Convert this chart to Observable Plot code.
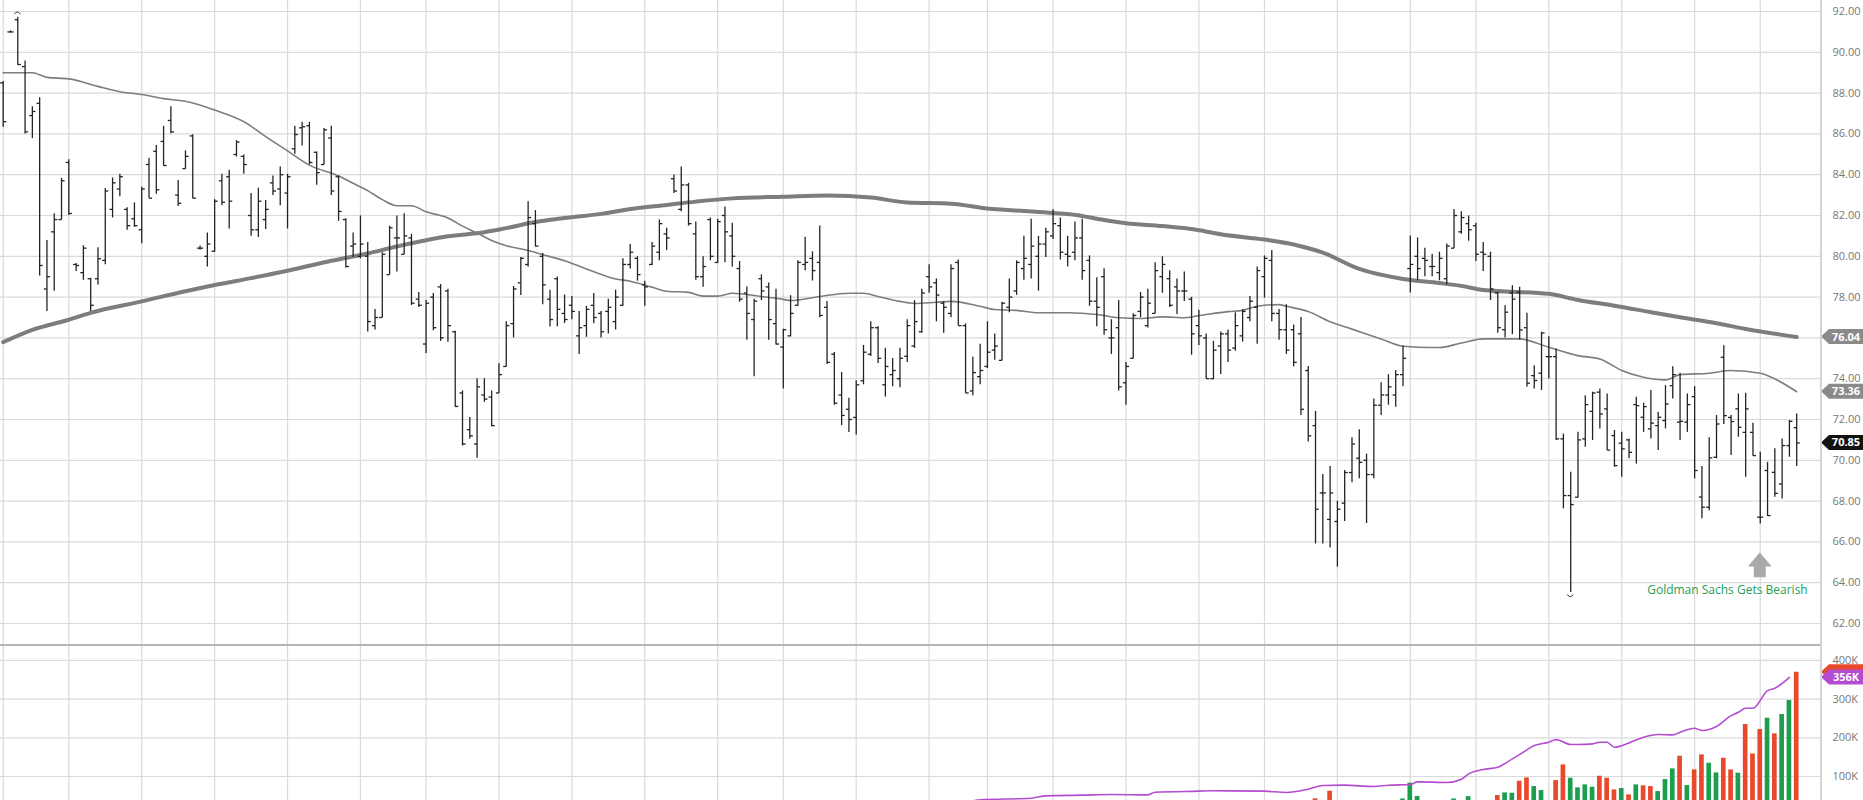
<!DOCTYPE html>
<html><head><meta charset="utf-8">
<script src="https://cdn.jsdelivr.net/npm/d3@7"></script>
<script src="https://cdn.jsdelivr.net/npm/@observablehq/plot@0.6"></script>
<style>
html,body{margin:0;padding:0;background:#fff;overflow:hidden}
#wrap{width:1863px;height:800px;position:relative}
#sep{height:2px;background:#b5b5b5;width:1821px}
#vline{position:absolute;left:1820px;top:0;width:2px;height:800px;background:#d4d4d4}
svg{display:block}
</style></head><body>
<div id="wrap"><div id="price"></div><div id="sep"></div><div id="vol"></div><div id="vline"></div></div>
<script>
// ---- daily OHLC (bar index 0..246) ----
const opens = [88.5,91.0,91.6,89.3,86.9,87.5,78.4,81.2,81.8,84.6,
79.6,79.2,78.9,78.9,79.8,82.3,83.3,82.3,81.84,81.3,
84.5,85.15,85.63,86.66,83.0,84.3,85.9,80.4,80.0,80.25,
83.7,83.9,84.99,84.9,82.0,81.3,81.8,83.6,83.3,83.1,
85.27,86.3,86.4,85.1,84.5,85.8,83.9,81.8,80.5,80.0,
80.0,76.6,77.0,79.1,80.9,80.1,80.9,77.9,75.7,78.0,
78.5,78.3,76.3,73.3,71.5,70.8,73.2,73.1,73.3,74.6,
76.7,78.7,79.6,81.6,80.0,77.9,78.9,77.2,77.6,76.1,
76.6,77.6,77.2,77.3,76.8,77.6,79.6,79.9,78.6,79.6,
80.2,81.1,83.8,82.3,83.5,81.1,79.0,81.8,79.7,82.0,
81.0,79.4,78.2,76.9,78.9,78.5,76.7,75.55,76.1,77.6,
79.6,79.9,79.7,77.5,75.2,73.2,72.5,72.1,73.9,75.2,
76.5,73.7,74.2,74.0,75.1,75.6,76.3,79.0,78.7,77.7,
77.2,79.7,76.6,73.4,74.1,74.6,75.4,74.9,77.5,78.3,
79.4,79.6,80.0,80.6,81.0,81.5,80.1,80.2,80.9,79.8,
77.8,79.0,76.0,76.5,73.8,75.0,77.3,76.6,77.2,79.0,
78.9,78.5,78.3,77.9,76.6,76.0,74.0,75.6,76.2,75.5,
76.1,77.0,77.5,79.0,79.8,77.2,76.4,76.4,76.2,74.4,
71.7,68.4,67.1,67.0,67.9,69.4,70.1,70.0,69.3,72.7,
73.2,73.2,74.2,79.4,80.0,79.9,79.5,79.2,78.9,80.4,
81.2,81.6,81.5,80.2,80.0,78.2,76.4,78.2,78.24,76.5,
74.15,74.27,75.08,75.08,71.05,68.27,68.19,71.05,72.4,73.34,
72.52,71.21,70.84,71.0,72.73,72.11,71.54,71.7,71.95,73.66,
71.87,71.87,73.12,68.2,67.7,70.15,75.05,72.1,72.52,71.37,
71.37,67.21,69.5,69.41,68.84,70.72,71.6];
const highs = [88.57,91.05,91.72,89.57,87.33,87.77,80.78,82.08,83.82,84.73,
79.65,80.52,78.93,80.42,83.32,83.84,84.02,82.38,82.62,83.38,
84.81,85.43,86.37,87.33,83.72,85.17,85.96,80.5,81.14,82.78,
84.02,84.22,85.67,84.97,83.08,83.34,82.74,83.94,84.38,84.02,
86.37,86.57,86.57,85.11,86.27,86.37,83.94,81.84,81.14,81.98,
80.68,77.39,80.18,81.48,81.98,82.08,81.08,78.22,77.83,78.18,
78.62,78.38,76.33,73.4,72.1,74.0,74.0,73.4,74.73,76.79,
78.52,79.94,82.68,82.24,80.14,78.34,78.98,78.1,78.03,77.29,
77.55,78.18,77.29,77.89,78.34,79.88,80.58,79.98,78.78,80.68,
81.78,81.38,83.98,84.38,83.58,81.68,79.98,81.88,81.82,82.42,
81.62,79.74,78.49,77.89,79.09,78.69,78.39,76.43,78.07,79.78,
80.94,80.22,81.48,77.79,75.29,74.3,73.04,73.9,75.63,76.79,
76.55,75.49,74.99,75.49,76.89,77.83,78.39,79.58,78.89,77.79,
79.58,79.82,76.69,75.05,75.69,76.79,76.19,77.75,78.89,79.78,
80.98,81.82,80.98,81.38,82.28,81.88,80.98,81.68,81.82,80.02,
78.95,79.39,76.89,77.83,74.79,77.19,78.23,78.39,79.68,79.98,
79.29,78.89,79.23,77.99,77.35,76.19,75.83,76.29,76.39,77.23,
77.39,78.03,79.48,80.02,80.28,77.39,77.63,76.63,77.0,74.6,
72.4,69.3,69.7,67.99,69.5,71.1,71.5,70.3,73.0,73.8,
74.2,74.4,75.6,81.0,80.9,80.4,80.1,80.2,80.6,82.3,
82.18,81.98,81.62,80.68,80.2,78.24,77.58,78.56,78.48,77.21,
74.64,76.28,76.06,75.46,71.29,69.41,71.37,73.17,73.34,73.5,
73.25,71.46,71.37,71.05,73.09,72.8,73.42,72.35,73.66,74.59,
74.27,73.25,73.61,69.69,71.1,72.19,75.62,72.19,73.25,73.29,
71.82,70.39,69.9,70.56,71.05,71.95,72.27];
const lows = [86.33,90.95,89.37,86.0,85.77,79.03,77.29,78.29,81.78,82.0,
79.25,78.82,77.29,78.59,79.58,81.88,82.92,81.28,81.42,80.62,
82.84,83.04,84.42,86.01,82.44,84.27,82.82,80.3,79.48,80.2,
82.48,81.34,84.87,84.02,80.98,80.92,81.32,82.98,82.48,81.34,
85.0,85.41,84.48,83.48,84.48,82.98,81.72,79.43,79.94,79.88,
76.29,76.39,76.99,79.09,79.23,80.08,77.59,77.49,75.23,76.35,
75.83,75.79,72.6,70.7,71.04,70.1,72.84,71.64,73.28,74.56,
76.0,78.08,79.48,80.46,77.63,76.53,76.55,76.7,76.89,75.19,
76.03,76.69,75.99,76.19,76.39,77.55,79.38,78.78,77.55,79.55,
79.78,80.28,83.08,82.18,81.48,78.83,78.48,79.78,79.65,79.68,
79.48,77.75,75.89,74.1,77.83,75.89,75.65,73.5,76.05,77.55,
79.29,78.79,76.99,74.7,72.7,71.7,71.36,71.24,73.7,75.09,
74.75,73.1,73.6,73.56,74.79,75.49,76.23,78.19,76.79,76.23,
76.99,76.59,73.28,73.16,73.7,74.5,74.9,74.88,77.23,78.09,
78.83,78.89,78.29,79.94,80.82,79.82,79.48,79.78,78.83,77.55,
76.55,76.13,75.19,73.4,72.7,74.98,76.99,76.49,77.18,78.19,
77.49,77.15,77.79,75.15,75.63,73.98,73.95,74.2,74.79,75.35,
75.79,76.79,75.69,77.95,76.79,75.89,75.19,74.59,72.2,70.9,
65.9,65.9,65.7,64.76,67.0,68.9,69.1,66.9,69.1,72.2,
72.7,72.6,73.6,78.2,78.8,79.0,79.0,78.8,78.6,80.38,
81.08,80.74,79.74,79.25,77.83,76.23,76.0,76.16,75.9,73.58,
73.5,73.42,73.99,70.97,67.62,63.52,68.15,70.64,70.97,71.54,
70.48,69.66,69.17,70.07,69.82,71.37,71.05,70.48,71.54,73.01,
70.97,71.37,69.09,67.13,67.53,70.07,71.75,70.23,71.13,69.17,
70.2,66.88,67.25,68.19,68.1,70.15,69.69];
const closes = [86.6,91.0,89.4,86.1,87.1,79.55,79.0,81.8,83.7,82.1,
79.55,80.4,77.6,79.88,83.2,83.6,83.9,81.5,81.5,83.3,
82.85,83.26,84.45,86.1,82.6,84.9,82.85,80.4,80.6,82.7,
82.65,82.7,85.6,84.5,81.3,82.7,82.3,83.2,84.0,83.9,
85.97,86.35,84.6,84.1,86.2,83.2,82.2,79.5,80.6,80.6,
76.8,77.0,80.1,81.4,80.9,81.0,77.7,77.6,77.7,76.5,
76.0,76.6,72.64,70.8,71.2,73.6,73.0,71.7,74.2,76.6,
78.4,79.9,81.9,80.5,78.6,76.9,77.4,76.9,77.3,76.5,
77.4,77.0,76.3,77.5,78.0,79.6,80.2,79.1,78.5,80.5,
81.6,80.9,83.2,83.5,81.6,79.0,79.5,80.0,81.7,81.2,
80.0,77.9,77.2,77.8,78.3,76.9,75.7,76.4,77.2,79.7,
79.7,79.3,77.1,74.8,72.8,72.2,72.0,73.7,75.3,76.5,
75.0,74.6,74.4,75.0,76.6,76.8,78.2,78.5,78.1,77.5,
79.4,76.6,73.3,74.3,74.4,75.3,75.6,77.7,78.0,79.7,
79.9,80.5,80.6,81.2,81.6,80.2,80.0,80.9,79.3,77.8,
77.5,76.4,76.0,73.6,74.6,77.1,78.0,77.7,79.3,79.6,
77.6,78.3,78.3,76.2,76.1,74.0,75.4,76.2,75.4,76.6,
77.3,77.8,79.3,79.9,77.2,76.4,75.4,74.8,72.5,71.2,
67.6,68.4,68.4,67.6,69.4,70.8,69.9,69.3,72.7,73.2,
73.6,74.2,75.0,79.6,79.4,79.8,79.5,79.9,80.5,82.0,
81.9,81.3,80.1,80.1,78.4,76.5,77.26,77.9,76.39,73.78,
73.91,76.24,75.08,71.05,68.27,67.83,71.0,72.73,73.3,72.27,
70.5,69.74,70.56,70.39,72.68,72.63,71.82,72.11,72.76,74.2,
71.91,72.73,69.5,67.7,70.12,71.78,72.19,71.9,71.62,72.52,
70.23,67.21,67.29,68.38,70.72,71.91,70.85];

// ---- moving averages, read at sample bars ----
const ma200Idx = [0,4,9,12,19,25,29,34,39,45,50,54,61,66,69,73,77,82,86,91,95,100,107,113,119,124,130,135,140,144,148,150,154,159,164,167,173,177,181,186,192,197,200,203,212,216,221,226,230,235,239,246];
const ma200Val = [75.79,76.39,76.89,77.23,77.79,78.29,78.59,78.93,79.29,79.78,80.14,80.48,80.98,81.18,81.38,81.68,81.88,82.08,82.32,82.52,82.68,82.84,82.92,82.98,82.88,82.64,82.58,82.34,82.22,82.12,81.98,81.84,81.62,81.48,81.28,81.08,80.82,80.58,80.18,79.38,78.89,78.69,78.55,78.35,78.16,77.86,77.58,77.26,77.01,76.72,76.44,76.04];
const ma50Idx = [0,4,6,9,13,16,19,22,25,29,33,36,39,42,46,48,50,52,54,56,58,61,63,65,67,69,72,74,77,80,84,86,89,91,94,96,98,100,104,107,108,112,116,118,120,123,125,128,130,134,136,139,142,146,150,153,156,159,162,165,168,170,172,175,176,179,182,185,189,192,196,197,200,203,208,212,216,219,222,225,228,230,234,237,241,243,246];
const ma50Val = [89.0,89.0,88.77,88.7,88.33,88.07,87.93,87.73,87.6,87.17,86.6,85.87,85.17,84.47,83.94,83.58,83.22,82.78,82.48,82.48,82.18,81.88,81.48,81.14,80.78,80.52,80.28,80.08,79.78,79.38,78.89,78.78,78.49,78.29,78.23,78.05,78.05,78.19,78.03,77.89,77.83,78.03,78.19,78.19,78.03,77.79,77.69,77.75,77.79,77.55,77.39,77.35,77.23,77.23,77.15,76.99,76.95,77.03,76.99,77.15,77.29,77.35,77.55,77.63,77.55,77.29,76.79,76.43,75.95,75.59,75.53,75.53,75.75,75.95,75.95,75.54,75.13,74.97,74.4,74.07,73.94,74.2,74.27,74.4,74.27,73.99,73.36];

// ---- volume (thousands), only bars tall enough to show ----
const volIdx = [180,182,192,193,194,199,201,205,206,207,208,209,210,211,213,214,215,216,217,218,219,220,221,222,223,224,225,226,227,228,229,230,231,232,233,234,235,236,237,238,239,240,241,242,243,244,245,246];
const volK   = [42.3,62,42,82.7,48.3,42,48,50.8,57.7,56.8,87.8,96.4,74.0,63.7,89.5,130,95.6,70.6,78.4,72.3,100.7,95.6,65.4,68.9,52.5,78.4,75.8,74.0,61.1,92.1,119.7,152.4,76.6,117.1,155.8,134.3,109.3,147.2,117.1,108.5,234.2,158.4,221.3,250.6,210.1,260,296.2,369.4];
const volUp  = [0,0,1,1,1,1,1,0,1,1,0,0,1,1,0,0,1,1,1,1,0,0,0,1,0,1,0,0,1,1,1,0,1,0,0,1,1,0,0,1,0,0,0,1,0,1,1,0];
const volMaIdx = [133,134,141,143,148,152,157,158,164,166,173,176,179,181,184,188,190,193,194,198,200,201,203,205,207,209,210,212,213,215,216,218,219,220,221,223,225,227,229,230,232,233,235,237,238,239,240,242,243,245];
const volMaVal = [37,39.7,44.0,50.0,51.8,53.5,52.6,59.5,62.1,63.0,62.1,58.7,67.3,76.7,77.6,74.2,77.6,79.3,86.2,84.5,93.1,106.9,118,124,145.5,168.8,180,188.6,195.4,182.5,182.5,184.3,188.6,188.6,175.6,186.8,201.5,208.4,207.5,214.4,224.7,218.7,229,257.4,266,276.4,276.4,322,328,356];

// ---- axes / grid ----
const priceTicks = [62,64,66,68,70,72,74,76,78,80,82,84,86,88,90,92];
const volTicks = [100,200,300,400];
const gridIdx = [0,9,19,29,39,49,58,68,78,88,98,107,117,127,135,144,154,164,173,183,193,202,212,222,232,241];

// ---- annotation & last-value tags ----
const noteText = "Goldman Sachs Gets Bearish";
const noteArrowIdx = 241, noteArrowTop = 65.45, noteArrowBottom = 64.24;
const noteTextIdx = 236.5, noteTextPrice = 63.62;
const priceTags = [{v:76.04, label:"76.04", fill:"#8a8a8a"},{v:73.36, label:"73.36", fill:"#8a8a8a"},{v:70.85, label:"70.85", fill:"#111111"}];
const volTags = [{v:369.4, label:"", fill:"#e8482c"},{v:356, label:"356K", fill:"#b34ccf"}];

// ---- build tables ----
const bars = opens.map((o,i)=>({i, o, h:highs[i], l:lows[i], c:closes[i]}));
const ma200 = ma200Idx.map((i,k)=>({i, v:ma200Val[k]}));
const ma50 = ma50Idx.map((i,k)=>({i, v:ma50Val[k]}));
const vols = volIdx.map((i,k)=>({i, v:volK[k], up:volUp[k]}));
const volMa = volMaIdx.map((i,k)=>({i, v:volMaVal[k]}));
const xDomain = [-0.37, 249.4];
const grid = "#dadada", ink = "#232323";

function tagMark(items){
  return (index, scales, values, dims) => {
    const g = d3.create("svg:g");
    const x0 = dims.width - dims.marginRight;
    for (const t of items){
      const y = scales.y(t.v);
      g.append("path")
        .attr("d", `M${x0},${y} L${x0+8},${y-7.5} H${dims.width} V${y+7.5} H${x0+8} Z`)
        .attr("fill", t.fill);
      if (t.label) g.append("text").attr("x", x0+8+(dims.width-x0-8)/2).attr("y", y).attr("dy","0.36em")
        .attr("text-anchor","middle").attr("fill","#fff").attr("font-weight","bold")
        .attr("font-size", 11).attr("font-family","Open Sans, sans-serif")
        .text(t.label);
    }
    return g.node();
  };
}
// small arc marking the extreme high / low of the window
function extremeMark(bar, key, up){
  return (index, {x, y}) => {
    const cx = x(bar.i), cy = y(bar[key]) + (up ? -4 : 4);
    const d = up ? `M${cx-3},${cy+1.5} Q${cx},${cy-3} ${cx+3},${cy+1.5}` : `M${cx-3},${cy-1.5} Q${cx},${cy+3} ${cx+3},${cy-1.5}`;
    return d3.create("svg:path").attr("d", d).attr("fill","none").attr("stroke","#333").attr("stroke-width",1).node();
  };
}

const pricePlot = Plot.plot({
  width: 1863, height: 644,
  marginLeft: 0, marginRight: 42, marginTop: 0, marginBottom: 0,
  x: {domain: xDomain, axis: null},
  y: {domain: [60.97, 92.54], axis: null},
  style: {fontFamily: "Open Sans, sans-serif", fontSize: "11px", color: "#777", background: "#fff"},
  marks: [
    Plot.ruleY(priceTicks, {stroke: grid, strokeWidth: 1.2}),
    Plot.ruleX(gridIdx, {stroke: grid, strokeWidth: 1.2}),
    Plot.line(ma200, {x:"i", y:"v", stroke:"#7d7d7d", strokeWidth:4, curve:"monotone-x"}),
    Plot.line(ma50, {x:"i", y:"v", stroke:"#7d7d7d", strokeWidth:1.6, curve:"monotone-x"}),
    Plot.ruleX(bars, {x:"i", y1:"l", y2:"h", stroke: ink, strokeWidth: 1.3}),
    Plot.link(bars, {x1: d=>d.i-0.42, x2:"i", y1:"o", y2:"o", stroke: ink, strokeWidth: 1.3}),
    Plot.link(bars, {x1:"i", x2: d=>d.i+0.42, y1:"c", y2:"c", stroke: ink, strokeWidth: 1.3}),
    extremeMark(bars[2], "h", true),
    extremeMark(bars[215], "l", false),
    (index, {x, y}) => {
      const cx = x(noteArrowIdx), yt = y(noteArrowTop), yb = y(noteArrowBottom);
      const yh = yt + (yb-yt)*0.56;
      return d3.create("svg:path")
        .attr("d", `M${cx},${yt} L${cx+12},${yh} H${cx+6} V${yb} H${cx-6} V${yh} H${cx-12} Z`)
        .attr("fill", "#a9a9a9").node();
    },
    Plot.text([{i: noteTextIdx, p: noteTextPrice}], {x:"i", y:"p", text: ()=>noteText, fill:"#22a05a", fontSize:12, textAnchor:"middle"}),
    Plot.axisY(priceTicks, {anchor:"right", tickSize:0, tickPadding:11, tickFormat: d=>d.toFixed(2), label:null}),
    tagMark(priceTags)
  ]
});
document.getElementById("price").append(pricePlot);

const volPlot = Plot.plot({
  width: 1863, height: 154,
  marginLeft: 0, marginRight: 42, marginTop: 0, marginBottom: 0,
  x: {domain: xDomain, axis: null},
  y: {domain: [38.0, 435.9], axis: null},
  style: {fontFamily: "Open Sans, sans-serif", fontSize: "11px", color: "#777", background: "#fff"},
  marks: [
    Plot.ruleY(volTicks, {stroke: grid, strokeWidth: 1.2}),
    Plot.ruleX(gridIdx, {stroke: grid, strokeWidth: 1.2}),
    Plot.rectY(vols.filter(d=>d.up), {x1: d=>d.i-0.32, x2: d=>d.i+0.32, y1: 0, y2:"v", fill:"#1c9e4f", clip:true}),
    Plot.rectY(vols.filter(d=>!d.up), {x1: d=>d.i-0.32, x2: d=>d.i+0.32, y1: 0, y2:"v", fill:"#e8482c", clip:true}),
    Plot.line(volMa, {x:"i", y:"v", stroke:"#b34ccf", strokeWidth:1.6, curve:"monotone-x", clip:true}),
    Plot.axisY(volTicks, {anchor:"right", tickSize:0, tickPadding:11, tickFormat: d=>d+"K", label:null}),
    tagMark(volTags)
  ]
});
document.getElementById("vol").append(volPlot);
</script>
</body></html>
